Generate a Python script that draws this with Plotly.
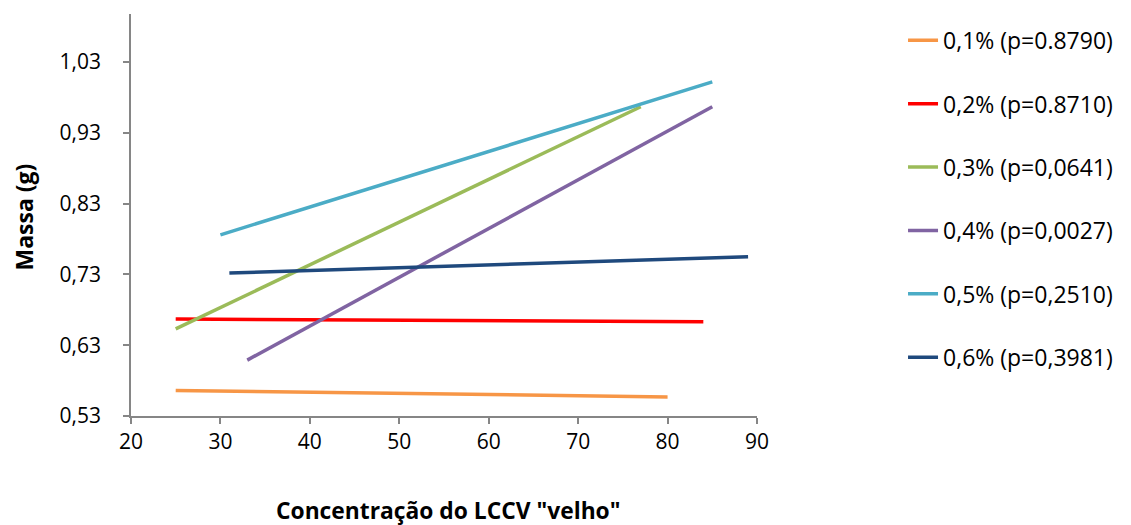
import plotly.graph_objects as go

# Data (start/end of each fitted line)
series_names = ["0,1% (p=0.8790)", "0,2% (p=0.8710)", "0,3% (p=0,0641)",
                "0,4% (p=0,0027)", "0,5% (p=0,2510)", "0,6% (p=0,3981)"]
x_start = [25, 25, 25, 33, 30, 31]
x_end = [80, 84, 77, 85, 85, 89]
y_start = [0.566, 0.667, 0.653, 0.609, 0.786, 0.732]
y_end = [0.557, 0.663, 0.967, 0.967, 1.002, 0.755]
colors = ["#F79646", "#FF0000", "#9BBB59", "#8064A2", "#4BACC6", "#1F497D"]

x_ticks = [20, 30, 40, 50, 60, 70, 80, 90]
y_ticks = [0.53, 0.63, 0.73, 0.83, 0.93, 1.03]
y_tick_labels = ["0,53", "0,63", "0,73", "0,83", "0,93", "1,03"]

FONT = "Open Sans"

fig = go.Figure()
for i, name in enumerate(series_names):
    fig.add_trace(go.Scatter(
        x=[x_start[i], x_end[i]], y=[y_start[i], y_end[i]],
        mode="lines", name=name, legendgroup=name,
        line=dict(color=colors[i], width=3.5),
    ))

axis_common = dict(
    showgrid=False, zeroline=False, showline=True, linecolor="#868686",
    linewidth=1.5, ticks="outside", ticklen=6, tickcolor="#868686",
    tickwidth=1.5, tickfont=dict(family=FONT, size=21, color="#000000"),
)

fig.update_layout(
    width=1115, height=517,
    paper_bgcolor="white", plot_bgcolor="white",
    margin=dict(l=123, r=365, t=6, b=109),
    font=dict(family=FONT, color="#000000"),
    xaxis=dict(range=[20, 90], tickvals=x_ticks, **axis_common),
    yaxis=dict(range=[0.53, 1.098], tickvals=y_ticks, ticktext=y_tick_labels,
               ticklabelstandoff=18, **axis_common),
    legend=dict(
        x=1.2313, y=0.988, xanchor="left", yanchor="top",
        font=dict(family=FONT, size=23, color="#000000"),
        tracegroupgap=30.5, bgcolor="rgba(0,0,0,0)",
    ),
    showlegend=True,
    annotations=[
        dict(text="<b>Concentração do LCCV \"velho\"</b>", xref="paper", yref="paper",
             x=0.507, y=-0.236, xanchor="center", yanchor="middle", showarrow=False,
             font=dict(family=FONT, size=22.8, color="#000000")),
        dict(text="<b>Massa (g)</b>", xref="paper", yref="paper",
             x=-0.1707, y=0.494, xanchor="center", yanchor="middle", showarrow=False,
             textangle=-90, font=dict(family=FONT, size=23, color="#000000")),
    ],
)

fig.write_html("out.html")
